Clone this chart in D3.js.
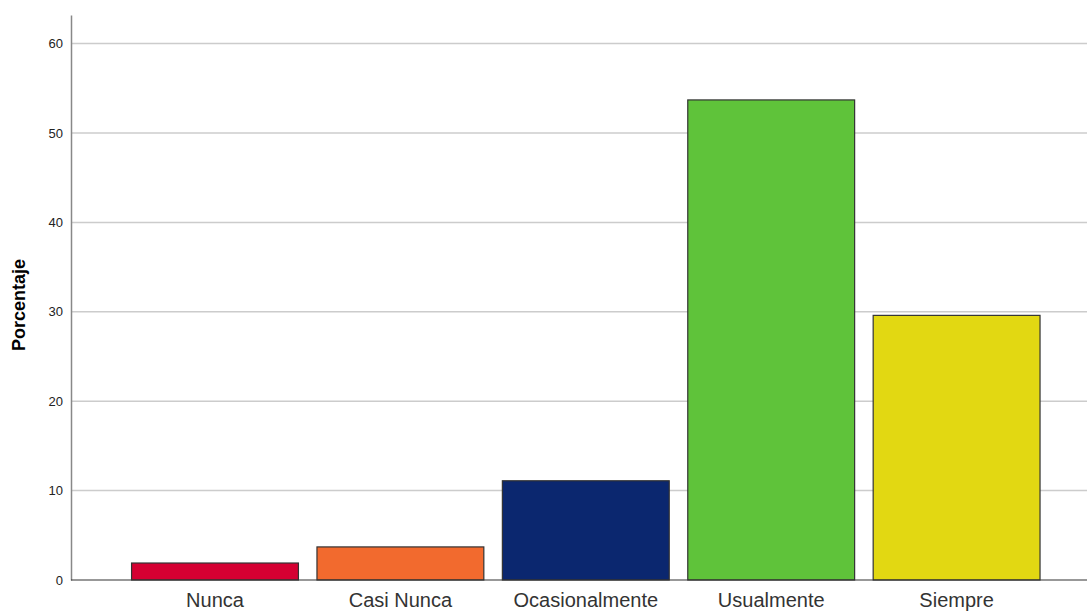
<!DOCTYPE html>
<html>
<head>
<meta charset="utf-8">
<script src="https://cdn.jsdelivr.net/npm/d3@7"></script>
<style>
  body { margin: 0; background: #fff; }
  text { font-family: "Liberation Sans", Arial, sans-serif; }
</style>
</head>
<body>
<div id="chart"></div>
<script>
// Datos
const categories = ["Nunca", "Casi Nunca", "Ocasionalmente", "Usualmente", "Siempre"];
const percentages = [1.9, 3.7, 11.1, 53.7, 29.6];
const barColors = ["#d50032", "#f26a2e", "#0b276f", "#5fc33a", "#e2d812"];
const yTicks = [0, 10, 20, 30, 40, 50, 60];

const width = 1087;
const height = 613;
const axisX = 71;
const baseY = 580;
const topY = 15;

const svg = d3.select("#chart")
  .append("svg")
  .attr("width", width)
  .attr("height", height);

// Escalas
const x = d3.scaleBand()
  .domain(categories)
  .range([122.3, 1049.3])
  .paddingInner(0.1)
  .paddingOuter(0.05);

const y = d3.scaleLinear()
  .domain([0, 63.2])
  .range([baseY, topY]);

// Lineas de cuadricula
svg.append("g")
  .selectAll("line")
  .data(yTicks.filter(d => d > 0))
  .enter()
  .append("line")
  .attr("x1", axisX)
  .attr("x2", width)
  .attr("y1", d => y(d))
  .attr("y2", d => y(d))
  .attr("stroke", "#cccccc")
  .attr("stroke-width", 1.5);

// Eje Y
const yAxis = svg.append("g")
  .attr("transform", `translate(${axisX},0)`)
  .call(d3.axisLeft(y).tickValues(yTicks).tickSize(0).tickPadding(8));
yAxis.select(".domain").attr("stroke", "#888888").attr("stroke-width", 1.5);
yAxis.selectAll("text")
  .style("font-size", "13px")
  .style("fill", "#222");

// Barras
svg.append("g")
  .selectAll("rect")
  .data(categories)
  .enter()
  .append("rect")
  .attr("x", d => x(d))
  .attr("y", (d, i) => y(percentages[i]))
  .attr("width", x.bandwidth())
  .attr("height", (d, i) => baseY - y(percentages[i]))
  .attr("fill", (d, i) => barColors[i])
  .attr("stroke", "#333")
  .attr("stroke-width", 1.2);

// Eje X
const xAxis = svg.append("g")
  .attr("transform", `translate(0,${baseY})`)
  .call(d3.axisBottom(x).tickSize(0).tickPadding(13));
xAxis.select(".domain").remove();
xAxis.selectAll("text")
  .style("font-size", "20px")
  .style("fill", "#333");

svg.append("line")
  .attr("x1", axisX)
  .attr("x2", width)
  .attr("y1", baseY)
  .attr("y2", baseY)
  .attr("stroke", "#333")
  .attr("stroke-width", 1.2);

// Titulo del eje
svg.append("text")
  .attr("transform", "rotate(-90)")
  .attr("x", -305)
  .attr("y", 25)
  .attr("text-anchor", "middle")
  .style("font-size", "18px")
  .style("font-weight", "bold")
  .text("Porcentaje");
</script>
</body>
</html>
